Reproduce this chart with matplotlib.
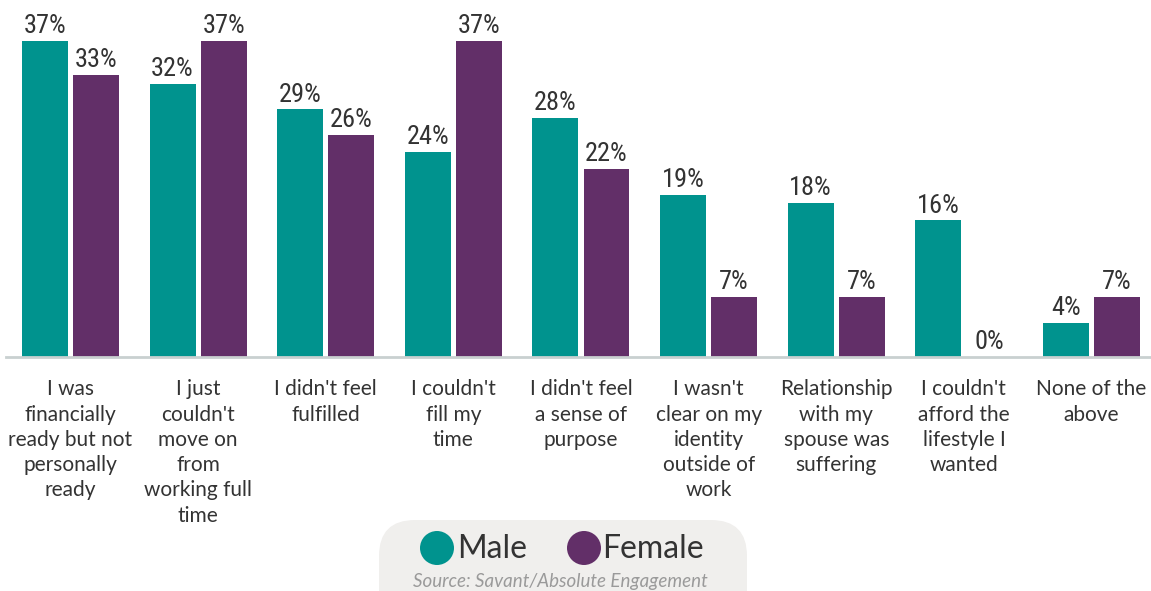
import matplotlib
matplotlib.use("Agg")
import matplotlib.pyplot as plt
from matplotlib.patches import FancyBboxPatch, Circle
import numpy as np

categories = [
    "I was\nfinancially\nready but not\npersonally\nready",
    "I just\ncouldn't\nmove on\nfrom\nworking full\ntime",
    "I didn't feel\nfulfilled",
    "I couldn't\nfill my\ntime",
    "I didn't feel\na sense of\npurpose",
    "I wasn't\nclear on my\nidentity\noutside of\nwork",
    "Relationship\nwith my\nspouse was\nsuffering",
    "I couldn't\nafford the\nlifestyle I\nwanted",
    "None of the\nabove",
]
male = [37, 32, 29, 24, 28, 19, 18, 16, 4]
female = [33, 37, 26, 37, 22, 7, 7, 0, 7]
series_names = ["Male", "Female"]
source_text = "Source: Savant/Absolute Engagement"

TEAL = "#00938e"
PURPLE = "#622f68"
TEXT = "#333333"

W, H = 1151, 591
fig = plt.figure(figsize=(W / 100, H / 100), dpi=100)
ax = fig.add_axes([6 / W, (H - 357) / H, 1145 / W, 357 / H])

x = np.arange(len(categories))
bw = 0.36
off = 0.2
bars_m = ax.bar(x - off, male, bw, color=TEAL, zorder=2)
bars_f = ax.bar(x + off, female, bw, color=PURPLE, zorder=2)

ax.set_xlim(-0.505, len(categories) - 1 + 0.466)
ax.set_ylim(0, 41.8)
for s in ax.spines.values():
    s.set_visible(False)
ax.set_xticks([])
ax.set_yticks([])
ax.axhline(0, color="#c9d0d0", lw=2, zorder=3, clip_on=False)

num_font = ["Roboto Condensed", "Roboto", "DejaVu Sans"]
for bars, vals in ((bars_m, male), (bars_f, female)):
    for b, v in zip(bars, vals):
        ax.annotate(f"{v}%", (b.get_x() + b.get_width() / 2, v),
                    xytext=(0, 2), textcoords="offset points",
                    ha="center", va="bottom", fontsize=19,
                    family=num_font, color=TEXT)

for xi, label in zip(x, categories):
    ax.annotate(label, (xi, 0), xytext=(0, -16), textcoords="offset points",
                ha="center", va="top", fontsize=15, family="Lato",
                color=TEXT, linespacing=1.33, annotation_clip=False)

# Legend pill
pill = FancyBboxPatch((379, -40), 368, 111, boxstyle="round,pad=0,rounding_size=36",
                      transform=None, facecolor="#f0efed", edgecolor="none", zorder=0)
fig.patches.append(pill)
for cx, name, tx, col in ((437, series_names[0], 457, TEAL), (584, series_names[1], 602, PURPLE)):
    c = Circle((cx, H - 548), 17, transform=None, facecolor=col, edgecolor="none")
    fig.patches.append(c)
    fig.text(tx / W, (H - 549) / H, name, ha="left", va="center",
             fontsize=23, family="Lato", color=TEXT)
fig.text(560 / W, (H - 582) / H, source_text, ha="center", va="center",
         fontsize=13.5, family="Lato", style="italic", color="#9a9a9a")

fig.savefig("out.png", dpi=100)
